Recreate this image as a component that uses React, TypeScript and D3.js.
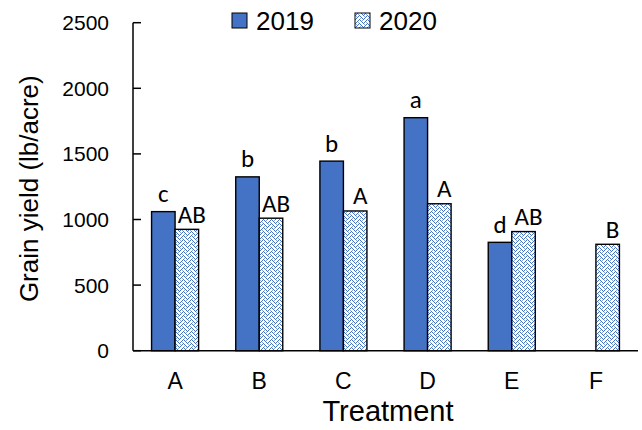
import React from "react";
import * as d3 from "d3";

const categories = ["A", "B", "C", "D", "E", "F"];
const seriesNames = ["2019", "2020"];
const values2019: (number | null)[] = [1060, 1325, 1445, 1776, 826, null];
const values2020: number[] = [925, 1010, 1065, 1120, 908, 811];
const letters2019: (string | null)[] = ["c", "b", "b", "a", "d", null];
const letters2020: string[] = ["AB", "AB", "A", "A", "AB", "B"];
const yTicks = [0, 500, 1000, 1500, 2000, 2500];

const W = 642;
const H = 430;
const plot = { left: 133, right: 638, top: 22.7, bottom: 350.7 };
const BLUE = "#4472C4";
const axisFont = "Liberation Sans, Arial, sans-serif";
const labelFont = "Carlito, Calibri, 'Open Sans', 'Liberation Sans', sans-serif";

export default function App() {
  const x = d3.scaleBand<string>().domain(categories).range([plot.left, plot.right]).paddingInner(0).paddingOuter(0);
  const xs = d3.scaleBand<string>().domain(seriesNames).range([0, x.bandwidth()]).paddingInner(0).paddingOuter(0.79);
  const y = d3.scaleLinear().domain([0, 2500]).range([plot.bottom, plot.top]);
  const bw = xs.bandwidth();

  const series = [
    { name: "2019", vals: values2019, letters: letters2019, dx: 0, gap: 9.5 },
    { name: "2020", vals: values2020 as (number | null)[], letters: letters2020 as (string | null)[], dx: 5, gap: 6.5 },
  ];

  return (
    <svg width={W} height={H} style={{ position: "absolute", left: 0, top: 0, background: "#fff" }}>
      <defs>
        <pattern id="weave" width="8" height="8" patternUnits="userSpaceOnUse">
          <rect width="8" height="8" fill="#ffffff" />
          <path
            d="M0 0h1v1h-1z M1 1h1v1h-1z M2 2h1v1h-1z M3 3h1v1h-1z M4 2h1v1h-1z M5 1h1v1h-1z M6 0h1v1h-1z
               M0 4h1v1h-1z M1 5h1v1h-1z M2 6h1v1h-1z M3 7h1v1h-1z M4 6h1v1h-1z M5 5h1v1h-1z M6 4h1v1h-1z
               M7 3h1v1h-1z M7 7h1v1h-1z"
            fill={BLUE}
          />
          <path d="M0 2h1v1h-1z M4 0h1v1h-1z M2 4h1v1h-1z M6 6h1v1h-1z" fill={BLUE} opacity="0.6" />
        </pattern>
      </defs>

      {/* bars */}
      {series.map((s) =>
        categories.map((c, i) => {
          const v = s.vals[i];
          if (v == null) return null;
          const bx = (x(c) as number) + (xs(s.name) as number);
          return (
            <rect
              key={s.name + c}
              x={bx}
              y={y(v)}
              width={bw}
              height={y(0) - y(v)}
              fill={s.name === "2019" ? BLUE : "url(#weave)"}
              stroke="#000"
              strokeWidth={1.4}
            />
          );
        })
      )}

      {/* significance letters */}
      {series.map((s) =>
        categories.map((c, i) => {
          const v = s.vals[i];
          const l = s.letters[i];
          if (v == null || l == null) return null;
          const bx = (x(c) as number) + (xs(s.name) as number) + bw / 2 + s.dx;
          return (
            <text key={"l" + s.name + c} x={bx} y={y(v) - s.gap} textAnchor="middle" fontFamily={labelFont} fontSize={25} fill="#000">
              {l}
            </text>
          );
        })
      )}

      {/* y axis */}
      <line x1={plot.left} x2={plot.left} y1={plot.top} y2={plot.bottom} stroke="#000" strokeWidth={1.5} />
      {yTicks.map((t) => (
        <g key={t}>
          <line x1={plot.left} x2={plot.left + 8} y1={y(t)} y2={y(t)} stroke="#000" strokeWidth={1.5} />
          <text x={109} y={y(t)} dy="0.36em" textAnchor="end" fontFamily={axisFont} fontSize={21} fill="#000">
            {t}
          </text>
        </g>
      ))}

      {/* x axis */}
      <line x1={plot.left} x2={plot.right} y1={plot.bottom} y2={plot.bottom} stroke="#000" strokeWidth={1.5} />
      {categories.map((c) => (
        <text key={c} x={(x(c) as number) + x.bandwidth() / 2} y={389} textAnchor="middle" fontFamily={axisFont} fontSize={23} fill="#000">
          {c}
        </text>
      ))}

      {/* axis titles */}
      <text x={388} y={421} textAnchor="middle" fontFamily={axisFont} fontSize={29} fill="#000">
        Treatment
      </text>
      <text
        transform={`translate(38, ${(plot.top + plot.bottom) / 2 + 2}) rotate(-90)`}
        textAnchor="middle"
        fontFamily={axisFont}
        fontSize={26}
        fill="#000"
      >
        Grain yield (lb/acre)
      </text>

      {/* legend */}
      <rect x={232} y={13} width={15} height={15} fill={BLUE} stroke="#000" strokeWidth={1} />
      <text x={256} y={29.5} fontFamily={axisFont} fontSize={26} fill="#000">
        2019
      </text>
      <rect x={355} y={13} width={15} height={15} fill="url(#weave)" stroke="#000" strokeWidth={1} />
      <text x={379} y={29.5} fontFamily={axisFont} fontSize={26} fill="#000">
        2020
      </text>
    </svg>
  );
}
